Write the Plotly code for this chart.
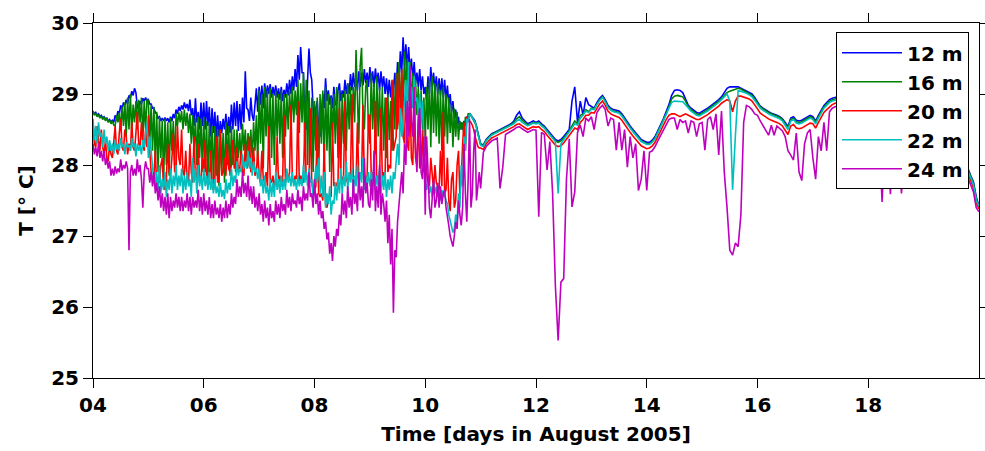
import numpy as np
import plotly.graph_objects as go

# ---- data: temperature (deg C), Aug 2005 ----
# active period 04.000-10.975 sampled every 0.025 day (rows of 40 = one day)
# quiet period 11.00-19.95 sampled every 0.05 day (rows of 20 = one day), plus value at 20.00
ACTIVE_START, ACTIVE_STEP = 4.0, 0.025
QUIET_START, QUIET_STEP = 11.0, 0.05
TICK_DAYS = [4, 6, 8, 10, 12, 14, 16, 18]
TICK_TEXT = ["04", "06", "08", "10", "12", "14", "16", "18"]
Y_TICKS = [25, 26, 27, 28, 29, 30]
DEPTHS = ["12 m", "16 m", "20 m", "22 m", "24 m"]
COLORS = ["#0000FF", "#008000", "#FF0000", "#00BFBF", "#BF00BF"]

T12_A = [
 [28.76,28.72,28.74,28.70,28.72,28.68,28.70,28.66,28.68,28.65,28.66,28.62,28.64,28.61,28.63,28.60,28.70,28.66,28.76,28.72,
  28.84,28.78,28.88,28.84,28.92,28.86,28.98,28.94,29.04,28.98,29.08,29.02,28.82,28.78,28.90,28.86,28.94,28.90,28.95,28.90],
 [28.92,28.86,28.86,28.80,28.80,28.74,28.72,28.66,28.68,28.62,28.66,28.62,28.67,28.62,28.66,28.60,28.68,28.62,28.72,28.66,
  28.78,28.72,28.82,28.76,28.84,28.78,28.88,28.80,28.86,28.76,28.92,28.70,28.80,28.55,28.94,28.60,28.75,28.50,28.88,28.55],
 [28.88,28.50,28.90,28.55,28.82,28.40,28.80,28.45,28.75,28.38,28.70,28.40,28.62,28.45,28.65,28.50,28.72,28.42,28.68,28.45,
  28.85,28.50,28.88,28.55,28.90,28.48,28.86,28.50,28.95,28.60,29.32,28.80,28.78,28.62,28.95,28.70,28.62,28.85,29.08,28.75],
 [29.10,28.85,29.12,28.80,29.15,28.95,29.12,29.00,29.14,28.95,29.10,28.98,29.12,28.95,29.08,28.92,29.10,28.90,29.06,28.95,
  29.15,28.98,29.20,29.00,29.25,29.05,29.35,29.10,29.55,29.20,29.66,29.30,29.30,28.60,28.50,29.20,29.64,29.30,29.20,28.80],
 [28.45,28.80,28.90,28.50,28.40,28.75,29.00,28.80,29.22,28.90,29.05,28.85,28.98,28.80,29.10,28.85,28.85,29.05,29.15,28.90,
  29.05,28.95,29.20,29.00,29.15,29.00,29.28,29.05,29.30,29.10,29.25,29.05,29.32,29.10,29.30,29.12,29.35,29.15,29.30,29.10],
 [29.38,29.15,29.32,29.10,29.36,29.15,29.30,29.05,29.32,29.10,29.25,29.00,29.22,28.95,29.20,28.95,29.18,29.00,29.30,29.05,
  29.45,29.15,29.60,29.30,29.80,29.40,29.70,29.35,29.66,29.30,29.50,29.20,29.45,29.15,29.30,29.10,29.35,29.05,29.25,29.00],
 [29.10,28.90,29.25,29.00,29.38,29.10,29.30,29.05,29.25,29.00,29.22,28.98,29.22,28.95,29.20,28.90,29.12,28.85,29.00,28.75,
  28.90,28.65,28.78,28.55,28.68,28.50,28.60,28.50,28.62,28.55,28.68,28.64,28.73,28.70,28.68,28.65,28.62,28.55,28.45,28.38],
]
T12_Q = [
 [28.30,28.28,28.36,28.40,28.44,28.46,28.48,28.50,28.52,28.53,28.55,28.58,28.62,28.70,28.75,28.66,28.62,28.58,28.60,28.62],
 [28.60,28.62,28.58,28.55,28.50,28.45,28.40,28.36,28.34,28.36,28.40,28.45,28.50,28.90,29.10,28.60,28.90,28.70,28.95,28.85],
 [28.82,28.80,28.88,28.94,28.98,28.92,28.84,28.80,28.78,28.77,28.76,28.72,28.66,28.60,28.55,28.50,28.45,28.40,28.36,28.34],
 [28.32,28.32,28.35,28.40,28.48,28.56,28.65,28.75,28.85,28.98,29.05,29.06,29.05,29.02,28.92,28.84,28.80,28.77,28.74,28.73],
 [28.75,28.78,28.80,28.83,28.86,28.88,28.92,28.96,29.02,29.08,29.10,29.10,29.10,29.10,29.08,29.06,29.05,29.03,29.00,28.95],
 [28.88,28.83,28.80,28.77,28.75,28.73,28.72,28.70,28.68,28.65,28.60,28.54,28.66,28.68,28.63,28.62,28.63,28.65,28.67,28.70],
 [28.68,28.62,28.70,28.78,28.84,28.88,28.92,28.94,28.95,28.96,28.95,28.92,28.88,28.84,28.80,28.76,28.72,28.70,28.68,28.65],
 [28.62,28.60,28.57,28.55,28.52,28.50,28.48,28.46,28.44,28.42,28.40,28.38,28.36,28.35,28.34,28.33,28.32,28.31,28.30,28.30],
 [28.29,28.28,28.27,28.26,28.24,28.22,28.20,28.18,28.16,28.14,28.12,28.10,28.07,28.04,28.01,27.98,27.95,27.85,27.76,27.55],
]
T12_END = 27.42

T16_A = [
 [28.76,28.70,28.73,28.68,28.71,28.66,28.69,28.64,28.68,28.62,28.66,28.60,28.63,28.58,28.62,28.56,28.55,28.70,28.60,28.74,
  28.50,28.82,28.55,28.88,28.40,28.95,28.50,29.00,28.45,28.85,28.60,28.90,28.50,28.92,28.60,28.95,28.35,28.90,28.50,28.93],
 [28.90,28.30,28.85,28.20,28.82,28.00,28.75,27.90,28.68,28.10,28.62,27.75,28.65,28.00,28.60,27.85,28.66,28.20,28.62,28.00,
  28.72,28.55,28.74,28.60,28.76,28.50,28.78,28.55,28.74,28.45,28.72,28.30,28.70,28.20,28.66,28.00,28.68,28.10,28.65,27.90],
 [28.68,27.90,28.62,27.80,28.60,28.00,28.55,27.72,28.55,27.85,28.50,27.70,28.50,27.90,28.45,27.75,28.60,28.00,28.55,27.85,
  28.55,28.00,28.50,27.90,28.50,28.10,28.45,28.05,28.58,28.20,28.50,28.10,28.45,28.15,28.50,28.08,28.60,28.20,28.70,28.00],
 [29.05,28.30,29.00,27.95,29.10,28.40,29.05,28.20,29.08,28.10,29.00,28.00,29.05,28.40,29.00,28.30,29.05,28.10,29.00,28.40,
  29.00,28.50,29.05,28.60,29.10,28.60,29.05,28.70,29.20,28.45,29.15,28.60,29.30,28.30,29.20,28.00,29.05,28.20,28.95,27.90],
 [28.90,28.20,28.95,27.80,29.00,28.30,29.05,28.00,29.10,28.20,29.00,27.90,28.95,28.40,29.00,28.30,29.10,28.10,29.05,27.95,
  29.00,28.30,29.05,28.20,29.15,28.50,29.10,28.40,29.10,28.60,29.62,28.80,28.30,29.40,29.65,28.70,28.50,29.10,29.20,28.50],
 [28.30,29.30,28.50,29.15,28.15,29.25,28.40,29.10,28.30,29.10,28.20,28.95,28.10,29.00,28.35,28.90,28.20,29.20,28.50,29.30,
  28.50,29.45,28.70,29.35,28.80,29.60,29.00,29.50,28.90,29.45,28.80,29.30,28.60,29.20,28.70,29.10,28.40,29.05,28.50,28.95],
 [28.35,29.10,28.50,29.20,28.25,29.25,28.45,29.15,28.40,29.15,28.30,29.05,28.20,29.10,28.40,29.00,28.30,28.95,28.45,28.85,
  28.25,28.80,28.40,28.75,28.35,28.62,28.50,28.60,28.40,28.68,28.60,28.72,28.72,28.70,28.66,28.64,28.60,28.55,28.44,28.36],
]
T16_Q = [
 [28.29,28.27,28.35,28.39,28.43,28.45,28.47,28.49,28.51,28.52,28.54,28.57,28.60,28.65,28.68,28.63,28.60,28.56,28.58,28.60],
 [28.59,28.60,28.56,28.53,28.48,28.43,28.38,28.34,28.32,28.34,28.38,28.43,28.48,28.55,28.62,28.58,28.70,28.72,28.78,28.75],
 [28.80,28.79,28.86,28.92,28.96,28.90,28.82,28.78,28.76,28.75,28.74,28.70,28.64,28.58,28.53,28.48,28.43,28.38,28.34,28.32],
 [28.30,28.30,28.33,28.38,28.46,28.54,28.63,28.72,28.82,28.93,28.97,28.98,28.97,28.96,28.90,28.82,28.78,28.75,28.72,28.71],
 [28.73,28.76,28.78,28.81,28.84,28.86,28.90,28.94,28.98,29.02,29.04,29.05,29.07,29.08,29.07,29.05,29.03,29.01,28.98,28.93],
 [28.87,28.82,28.79,28.76,28.74,28.72,28.71,28.69,28.67,28.64,28.58,28.52,28.64,28.66,28.61,28.60,28.61,28.63,28.65,28.68],
 [28.66,28.60,28.68,28.76,28.82,28.86,28.90,28.92,28.93,28.94,28.93,28.90,28.86,28.82,28.78,28.74,28.70,28.68,28.66,28.63],
 [28.60,28.58,28.55,28.53,28.50,28.48,28.46,28.44,28.42,28.40,28.38,28.36,28.34,28.33,28.32,28.31,28.30,28.29,28.28,28.28],
 [28.27,28.26,28.25,28.24,28.22,28.20,28.18,28.16,28.14,28.12,28.10,28.08,28.05,28.02,27.99,27.96,27.93,27.84,27.74,27.52],
]
T16_END = 27.42

T20_A = [
 [28.60,28.30,28.25,28.55,28.35,28.20,28.50,28.25,28.15,28.35,28.10,28.05,28.30,28.15,28.10,28.40,28.55,28.20,28.15,28.45,
  28.65,28.25,28.20,28.50,28.40,28.15,28.30,28.20,28.60,28.25,28.20,28.45,28.75,28.30,28.25,28.60,28.30,28.20,28.50,28.25],
 [28.70,28.20,27.90,27.80,27.85,28.20,27.70,27.80,27.75,28.00,28.10,27.70,27.65,27.80,28.30,27.90,27.85,28.10,28.45,27.90,
  27.95,28.55,28.10,28.00,28.50,27.90,27.85,28.20,27.80,27.75,28.30,27.90,27.75,28.40,27.80,27.85,28.30,27.75,27.80,28.10],
 [27.90,28.35,27.80,27.70,27.75,28.20,27.70,27.65,27.80,28.40,27.75,27.80,28.50,27.85,27.90,28.10,27.85,28.30,27.95,27.90,
  28.00,28.35,27.95,28.00,28.25,27.90,27.95,28.20,27.90,27.85,28.30,27.95,28.00,28.40,27.90,27.95,28.25,27.85,27.90,28.20],
 [27.85,27.75,28.20,27.80,27.75,27.90,27.70,28.55,27.80,27.75,27.85,27.70,27.80,28.40,27.75,27.85,27.70,27.80,28.70,27.75,
  27.85,27.80,27.90,28.85,27.80,27.75,27.85,27.80,28.90,27.75,27.85,27.80,27.75,28.60,27.80,27.85,27.70,28.80,27.75,27.65],
 [27.65,27.70,28.70,27.60,27.55,27.60,27.50,28.30,27.45,27.40,27.50,27.60,27.55,28.60,27.70,27.75,27.70,27.80,28.80,27.75,
  27.80,27.85,28.90,27.80,27.75,27.85,27.80,29.00,27.85,27.80,27.75,28.60,27.80,27.85,27.80,28.85,27.75,27.80,27.85,28.70],
 [28.70,27.85,27.90,27.80,28.90,27.75,27.85,27.80,28.80,27.80,27.90,27.85,28.95,27.90,28.00,27.95,29.20,28.20,28.30,28.40,
  29.30,28.60,28.50,29.35,28.40,28.30,29.10,28.30,28.20,28.95,28.10,28.00,28.90,28.10,28.00,28.70,27.95,28.00,28.50,27.90],
 [28.50,27.90,27.75,27.70,28.10,27.80,27.65,28.00,27.75,27.70,27.65,28.20,27.70,28.75,27.60,27.65,28.10,27.50,27.35,27.80,
  27.90,27.40,27.50,28.00,28.20,27.60,27.80,28.30,28.60,28.20,28.68,28.64,28.62,28.60,28.56,28.50,28.40,28.32,28.26,28.24],
]
T20_Q = [
 [28.24,28.22,28.30,28.34,28.38,28.40,28.42,28.44,28.46,28.47,28.49,28.52,28.54,28.57,28.58,28.55,28.53,28.50,28.52,28.54],
 [28.53,28.54,28.50,28.47,28.42,28.37,28.32,28.28,28.26,28.27,28.31,28.36,28.41,28.47,28.52,28.50,28.60,28.64,28.70,28.70],
 [28.74,28.73,28.80,28.86,28.90,28.84,28.76,28.72,28.70,28.69,28.67,28.63,28.57,28.51,28.46,28.41,28.36,28.31,28.27,28.25],
 [28.23,28.24,28.27,28.32,28.40,28.48,28.57,28.64,28.70,28.72,28.72,28.70,28.68,28.70,28.72,28.70,28.68,28.66,28.64,28.64],
 [28.66,28.69,28.71,28.74,28.77,28.79,28.83,28.87,28.90,28.92,28.90,28.75,28.90,28.97,28.97,28.96,28.95,28.93,28.90,28.85],
 [28.79,28.73,28.70,28.67,28.65,28.63,28.62,28.60,28.58,28.55,28.49,28.43,28.55,28.57,28.52,28.51,28.52,28.54,28.56,28.59],
 [28.58,28.52,28.60,28.68,28.74,28.78,28.82,28.85,28.87,28.88,28.87,28.84,28.80,28.76,28.72,28.68,28.64,28.62,28.60,28.57],
 [28.54,28.52,28.49,28.47,28.44,28.42,28.40,28.38,28.36,28.34,28.32,28.30,28.28,28.27,28.26,28.25,28.24,28.23,28.22,28.22],
 [28.21,28.20,28.19,28.18,28.16,28.14,28.12,28.10,28.08,28.06,28.04,28.02,27.99,27.96,27.93,27.90,27.88,27.78,27.68,27.46],
]
T20_END = 27.38

T22_A = [
 [28.65,28.35,28.55,28.30,28.60,28.40,28.45,28.25,28.50,28.30,28.40,28.20,28.35,28.20,28.30,28.15,28.35,28.22,28.30,28.20,
  28.38,28.25,28.30,28.15,28.32,28.25,28.28,28.20,28.38,28.25,28.30,28.12,28.30,28.20,28.28,28.15,28.35,28.25,28.45,28.60],
 [28.10,28.40,28.20,27.90,27.75,27.70,27.90,27.65,28.00,27.60,27.80,27.65,27.90,27.55,27.80,27.65,27.95,27.60,27.85,27.70,
  28.00,27.65,27.85,27.70,27.95,27.60,27.85,27.65,27.90,27.70,27.80,27.55,28.10,27.75,27.95,27.60,28.00,27.70,27.85,27.65],
 [27.95,27.70,27.85,27.65,27.90,27.65,27.80,27.60,27.80,27.60,27.70,27.55,27.75,27.55,27.65,27.52,27.80,27.60,27.75,27.65,
  27.95,27.70,27.85,27.75,28.05,27.85,27.95,27.90,28.15,27.95,28.05,27.95,28.20,27.95,28.10,27.85,28.05,27.90,27.95,27.80],
 [27.95,27.70,27.80,27.60,27.85,27.60,27.70,27.50,27.80,27.55,27.75,27.55,27.90,27.65,27.80,27.60,27.85,27.65,27.80,27.65,
  27.95,27.75,27.85,27.70,27.90,27.70,27.80,27.65,27.85,27.70,27.80,27.70,28.00,27.75,27.90,27.70,27.95,27.75,27.80,27.55],
 [27.80,28.00,27.75,28.10,27.60,27.85,27.55,27.90,27.40,27.60,27.45,27.70,27.30,27.50,27.45,27.75,27.50,27.80,27.60,27.95,
  27.60,27.85,27.70,28.05,27.65,27.90,27.75,27.95,27.60,27.85,27.70,28.00,27.70,27.90,27.75,28.10,27.65,27.85,27.70,27.90],
 [27.70,27.90,27.75,28.00,27.65,27.85,27.70,27.95,27.60,27.85,27.65,27.90,27.55,27.80,27.65,27.85,27.60,27.90,27.80,28.10,
  28.30,28.00,28.80,28.40,28.60,28.90,29.20,28.70,29.45,29.00,29.10,28.80,29.25,28.90,28.95,28.70,29.00,28.60,28.90,28.20],
 [27.80,27.65,27.75,27.60,27.70,27.55,27.75,27.60,27.70,27.55,27.65,27.50,27.65,27.55,27.60,27.50,27.45,27.30,27.20,27.10,
  27.05,27.10,27.30,27.20,27.60,27.40,28.00,27.70,28.40,28.20,28.65,28.60,28.72,28.70,28.66,28.64,28.60,28.52,28.44,28.36],
]
T22_Q = [
 [28.28,28.26,28.34,28.38,28.42,28.44,28.46,28.48,28.50,28.51,28.53,28.56,28.58,28.62,28.64,28.60,28.58,28.55,28.57,28.59],
 [28.58,28.59,28.55,28.52,28.47,28.42,28.37,28.33,27.60,28.30,28.36,28.41,28.46,28.52,28.58,28.56,28.66,28.70,28.76,28.74],
 [28.79,28.78,28.85,28.91,28.95,28.89,28.81,28.77,28.75,28.74,28.73,28.69,28.63,28.57,28.52,28.47,28.42,28.37,28.33,28.31],
 [28.29,28.29,28.32,28.37,28.45,28.53,28.62,28.71,28.80,28.88,28.90,28.90,28.90,28.89,28.85,28.80,28.76,28.73,28.70,28.69],
 [28.71,28.74,28.76,28.79,28.82,28.84,28.88,28.92,28.96,29.00,28.90,27.65,28.40,29.05,29.04,29.03,29.01,28.99,28.96,28.91],
 [28.85,28.80,28.77,28.74,28.72,28.70,28.69,28.67,28.65,28.62,28.56,28.50,28.62,28.64,28.59,28.58,28.59,28.61,28.63,28.66],
 [28.64,28.58,28.66,28.74,28.80,28.84,28.88,28.90,28.91,28.92,28.91,28.88,28.84,28.80,28.76,28.72,28.68,28.66,28.64,28.61],
 [28.58,28.56,28.53,28.51,28.48,28.46,28.44,28.42,28.40,28.38,28.36,28.34,28.32,28.31,28.30,28.29,28.28,28.27,28.26,28.26],
 [28.25,28.24,28.23,28.22,28.20,28.18,28.16,28.14,28.12,28.10,28.08,28.06,28.03,28.00,27.97,27.94,27.91,27.82,27.72,27.50],
]
T22_END = 27.42

T24_A = [
 [28.30,28.15,28.25,28.12,28.30,28.10,28.20,28.05,28.20,28.00,28.10,27.95,28.05,27.85,27.95,27.85,27.98,27.88,27.95,27.90,
  28.08,27.92,28.00,27.95,28.05,27.95,26.80,27.90,28.00,27.85,27.95,27.85,28.08,27.90,28.00,27.80,27.40,27.90,28.05,27.95],
 [27.95,27.75,27.90,27.70,27.90,27.60,27.75,27.50,27.70,27.40,27.60,27.35,27.55,27.30,27.60,27.25,27.55,27.35,27.50,27.40,
  27.60,27.40,27.55,27.35,27.55,27.35,27.50,27.40,27.60,27.35,27.55,27.30,27.55,27.40,27.50,27.40,27.65,27.35,27.55,27.30],
 [27.60,27.35,27.50,27.30,27.55,27.25,27.45,27.25,27.50,27.30,27.40,27.25,27.45,27.20,27.40,27.25,27.50,27.25,27.45,27.30,
  27.60,27.40,27.55,27.45,27.80,27.55,27.70,27.55,27.90,27.60,27.75,27.55,27.85,27.50,27.70,27.45,27.70,27.40,27.55,27.35],
 [27.60,27.30,27.45,27.20,27.50,27.25,27.40,27.15,27.45,27.25,27.35,27.20,27.50,27.30,27.45,27.25,27.55,27.35,27.45,27.30,
  27.65,27.40,27.55,27.35,27.60,27.45,27.50,27.40,27.65,27.45,27.55,27.35,27.70,27.50,27.60,27.50,27.90,27.55,27.60,27.40],
 [27.80,27.45,27.60,27.30,27.50,27.25,27.35,27.10,27.20,26.95,27.05,26.75,26.90,26.65,27.00,26.85,27.10,27.00,27.30,27.15,
  27.60,27.30,27.50,27.25,27.70,27.40,27.55,27.30,27.80,27.45,27.60,27.35,27.90,27.50,27.70,27.40,28.10,27.60,27.75,27.45],
 [27.40,27.80,27.50,28.20,27.35,27.70,27.40,28.00,27.30,27.60,27.45,27.20,27.50,26.90,27.30,26.60,27.10,25.92,26.80,26.70,
  27.20,27.40,27.60,27.90,27.60,28.30,28.00,28.90,28.40,29.40,28.60,28.40,29.10,28.20,27.90,28.60,28.80,27.90,27.80,28.40],
 [27.30,28.40,27.90,27.40,27.25,27.60,27.80,27.40,27.50,27.75,27.40,27.70,27.45,27.60,27.65,27.40,27.30,27.15,27.00,26.90,
  26.85,27.00,27.20,27.10,27.50,27.30,27.15,27.40,28.30,27.60,27.20,27.80,28.65,27.40,27.60,28.20,28.50,27.50,27.70,27.90],
]
T24_Q = [
 [27.67,28.18,28.26,28.30,28.34,28.36,28.38,27.67,27.97,28.43,28.45,28.48,28.50,28.53,28.54,28.51,28.49,28.46,28.48,28.50],
 [28.49,27.27,28.46,28.43,27.93,28.33,27.60,26.30,25.53,26.35,26.40,27.80,28.37,27.41,27.62,28.46,28.56,28.40,28.66,28.62],
 [28.68,28.50,28.74,28.80,28.84,28.78,28.55,28.66,28.64,28.21,28.60,28.21,28.50,27.97,28.40,28.10,28.30,27.64,27.80,28.20],
 [27.64,28.18,28.20,28.26,28.34,28.42,28.50,28.58,28.64,28.66,28.66,28.50,28.64,28.60,28.62,28.45,28.62,28.60,28.40,28.58],
 [28.60,28.21,28.64,28.68,28.50,28.72,28.14,28.76,27.90,27.40,26.80,26.73,26.90,26.85,27.30,28.60,28.84,28.82,28.78,28.72],
 [28.70,28.62,28.55,28.50,28.42,28.56,28.42,28.55,28.52,28.48,28.40,28.20,28.14,28.07,28.45,27.90,27.78,28.30,28.45,28.50],
 [28.10,27.80,28.40,28.20,28.60,28.20,28.75,28.80,28.82,28.83,28.82,28.78,28.74,28.70,28.66,28.62,28.58,28.56,28.54,28.51],
 [28.48,28.46,28.43,28.41,28.38,27.48,28.34,28.32,27.59,28.28,28.26,28.24,27.60,28.21,28.20,28.19,28.18,28.17,28.16,28.16],
 [28.15,28.14,28.13,28.12,28.10,28.08,28.06,28.04,28.02,28.00,27.98,27.96,27.93,27.90,27.87,27.84,27.82,27.72,27.62,27.40],
]
T24_END = 27.34


def flatten(active, quiet, end, name):
    for i, r in enumerate(active):
        if len(r) != 40:
            raise ValueError(f"{name} active row {i} has {len(r)} values")
    for i, r in enumerate(quiet):
        if len(r) != 20:
            raise ValueError(f"{name} quiet row {i} has {len(r)} values")
    return [v for r in active for v in r] + [v for r in quiet for v in r] + [end]


series = [
    flatten(T12_A, T12_Q, T12_END, "T12"),
    flatten(T16_A, T16_Q, T16_END, "T16"),
    flatten(T20_A, T20_Q, T20_END, "T20"),
    flatten(T22_A, T22_Q, T22_END, "T22"),
    flatten(T24_A, T24_Q, T24_END, "T24"),
]
n_active = 40 * len(T12_A)
n_quiet = 20 * len(T12_Q) + 1
t = np.concatenate([
    ACTIVE_START + ACTIVE_STEP * np.arange(n_active),
    QUIET_START + QUIET_STEP * np.arange(n_quiet),
]).round(3)

FONT = "DejaVu Sans"
BOLD20 = dict(family=FONT, size=20, color="black", weight="bold")

fig = go.Figure()
for name, col, vals in zip(DEPTHS, COLORS, series):
    fig.add_trace(go.Scatter(x=t, y=vals, mode="lines", name=name,
                             line=dict(color=col, width=1.6)))

axis_common = dict(showline=True, linecolor="black", linewidth=1, mirror="ticks",
                   ticks="outside", ticklen=9, tickwidth=1, tickcolor="black",
                   showgrid=False, zeroline=False, automargin=False,
                   tickfont=BOLD20)

fig.update_layout(
    width=985, height=451,
    margin=dict(l=93, r=6, t=23, b=73),
    plot_bgcolor="white", paper_bgcolor="white",
    font=BOLD20,
    xaxis=dict(range=[4, 20], tickvals=TICK_DAYS, ticktext=TICK_TEXT,
               title=dict(text="Time [days in August 2005]", standoff=10, font=BOLD20),
               **axis_common),
    yaxis=dict(range=[25, 30], tickvals=Y_TICKS,
               title=dict(text="T [° C]", standoff=12, font=BOLD20),
               **axis_common),
    legend=dict(x=0.9887, y=0.974, xanchor="right", yanchor="top",
                bordercolor="black", borderwidth=1, bgcolor="white",
                font=BOLD20, itemwidth=60, tracegroupgap=0),
)

fig.write_html("out.html")
